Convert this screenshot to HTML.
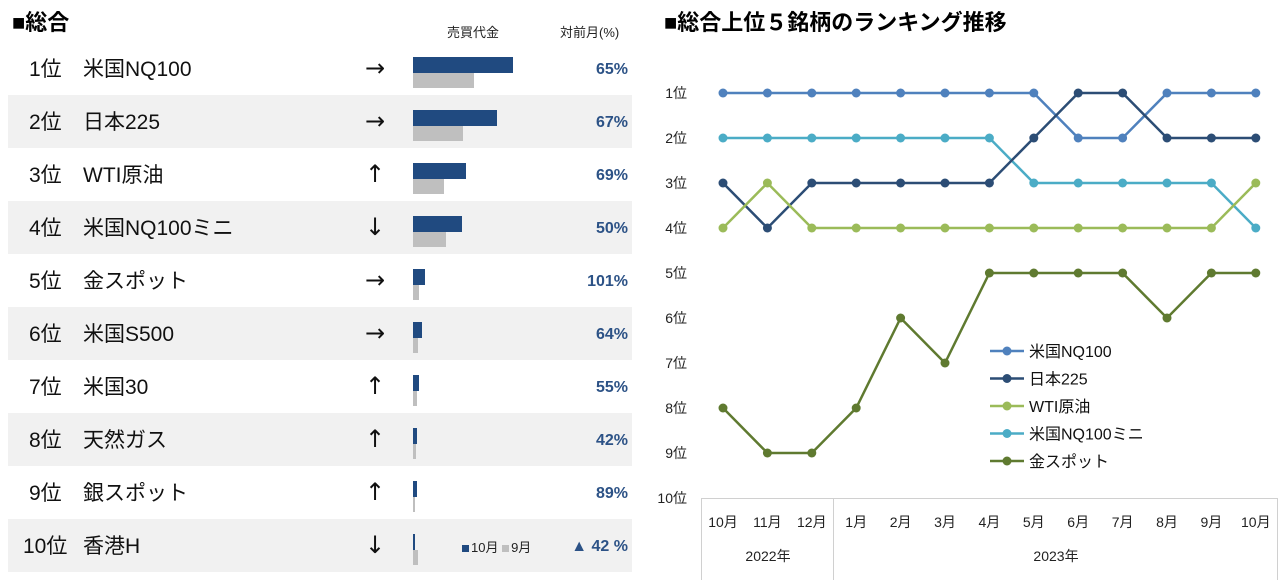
<!DOCTYPE html>
<html><head><meta charset="utf-8">
<style>
body{margin:0;width:1285px;height:580px;background:#fff;font-family:"Liberation Sans","Noto Sans CJK JP",sans-serif;position:relative;overflow:hidden}
.t{position:absolute;white-space:nowrap}
.r{position:absolute;top:0;line-height:53px;white-space:nowrap}
</style></head>
<body>
<div class="t" style="left:12px;top:5px;font-size:22px;font-weight:bold;color:#000">■総合</div>
<div class="t" style="left:447px;top:22px;font-size:13px;color:#222">売買代金</div>
<div class="t" style="left:560px;top:22px;font-size:13px;color:#222">対前月(%)</div>
<div id="table"></div>
<div class="t" style="left:462px;top:537px;font-size:13px;color:#222"><span style="display:inline-block;width:7px;height:7px;background:#204a80;margin-right:2px"></span>10月 <span style="display:inline-block;width:7px;height:7px;background:#bfbfbf;margin-right:2px"></span>9月</div>
<div class="t" style="left:664px;top:5px;font-size:22px;font-weight:bold;color:#000">■総合上位５銘柄のランキング推移</div>
<svg id="chart" width="1285" height="580" style="position:absolute;left:0;top:0"></svg>
<script>
const ranks=["1位","2位","3位","4位","5位","6位","7位","8位","9位","10位"];
const names=["米国NQ100","日本225","WTI原油","米国NQ100ミニ","金スポット","米国S500","米国30","天然ガス","銀スポット","香港H"];
const arrows=["→","→","↑","↓","→","→","↑","↑","↑","↓"];
const octVol=[100,84,53,49,12,9,6,4,4,2];
const sepVol=[61,50,31,33,6,5,4,3,2,5];
const pcts=["65%","67%","69%","50%","101%","64%","55%","42%","89%","▲ 42 %"];
const tb=document.getElementById('table');
for(let i=0;i<10;i++){
  const top=42+i*53;
  const r=document.createElement('div');
  
  
  r.style.cssText=`position:absolute;left:8px;top:${top}px;width:624px;height:53px;background:${i%2?'#f1f1f1':'#fff'}`;
  r.innerHTML=`<span class="r" style="left:${i==9?15:21}px;top:1px;font-size:21px;color:#111">${ranks[i]}</span>
<span class="r" style="left:75px;top:1px;font-size:21px;color:#111">${names[i]}</span>
<span class="r" style="left:357px;top:0px;font-size:24px;color:#111;font-family:'DejaVu Sans',sans-serif">${arrows[i]}</span>
<span class="t" style="left:405px;top:15px;width:${octVol[i]}px;height:16px;background:#204a80"></span>
<span class="t" style="left:405px;top:31px;width:${sepVol[i]}px;height:15px;background:#bfbfbf"></span>
<span class="r" style="right:4px;top:1px;font-size:16px;font-weight:bold;color:#2c5286">${pcts[i]}</span>`;
  tb.appendChild(r);
}
const months=["10月","11月","12月","1月","2月","3月","4月","5月","6月","7月","8月","9月","10月"];
const seriesNames=["米国NQ100","日本225","WTI原油","米国NQ100ミニ","金スポット"];
const sNQ=[1,1,1,1,1,1,1,1,2,2,1,1,1];
const sNK=[3,4,3,3,3,3,3,2,1,1,2,2,2];
const sWTI=[4,3,4,4,4,4,4,4,4,4,4,4,3];
const sMini=[2,2,2,2,2,2,2,3,3,3,3,3,4];
const sGold=[8,9,9,8,6,7,5,5,5,5,6,5,5];
const series=[sNQ,sNK,sWTI,sMini,sGold];
const colors=["#4f81bd","#2c4d75","#9bbb59","#4bacc6","#5f7a30"];
const svg=document.getElementById('chart');const NS='http://www.w3.org/2000/svg';
const X=i=>723+i*44.4, Y=r=>93+(r-1)*45;
function el(t,a,name){const e=document.createElementNS(NS,t);for(const k in a)e.setAttribute(k,a[k]);svg.appendChild(e);return e;}
for(let r=1;r<=10;r++){const t=el('text',{x:687,y:Y(r)+5,'font-size':14,fill:'#222','text-anchor':'end'},'y-tick-label');t.textContent=r+'位';}
el('rect',{x:701.5,y:498.5,width:576,height:90,fill:'none',stroke:'#d0d0d0'},'x-axis-box');
el('line',{x1:833.5,y1:498,x2:833.5,y2:580,stroke:'#d0d0d0'},'year-divider');
months.forEach((m,i)=>{const t=el('text',{x:X(i),y:527,'font-size':14,fill:'#222','text-anchor':'middle'},'x-tick-label');t.textContent=m;});
let t=el('text',{x:768,y:561,'font-size':14,fill:'#222','text-anchor':'middle'},'year-label');t.textContent='2022年';
t=el('text',{x:1056,y:561,'font-size':14,fill:'#222','text-anchor':'middle'},'year-label');t.textContent='2023年';
[4,0,3,1,2].forEach(s=>{
  const d=series[s].map((v,i)=>(i?'L':'M')+X(i)+' '+Y(v)).join(' ');
  el('path',{d,fill:'none',stroke:colors[s],'stroke-width':2.5},'series-line');
  series[s].forEach((v,i)=>el('circle',{cx:X(i),cy:Y(v),r:4.5,fill:colors[s]},'series-point'));
});
seriesNames.forEach((n,s)=>{const y=351+s*27.5;
  el('line',{x1:990,y1:y,x2:1024,y2:y,stroke:colors[s],'stroke-width':2.5},'legend-line');
  el('circle',{cx:1007,cy:y,r:4.5,fill:colors[s]},'legend-marker');
  const tt=el('text',{x:1029,y:y+6,'font-size':16,fill:'#111'},'legend-entry');tt.textContent=n;});
</script>
</body></html>
